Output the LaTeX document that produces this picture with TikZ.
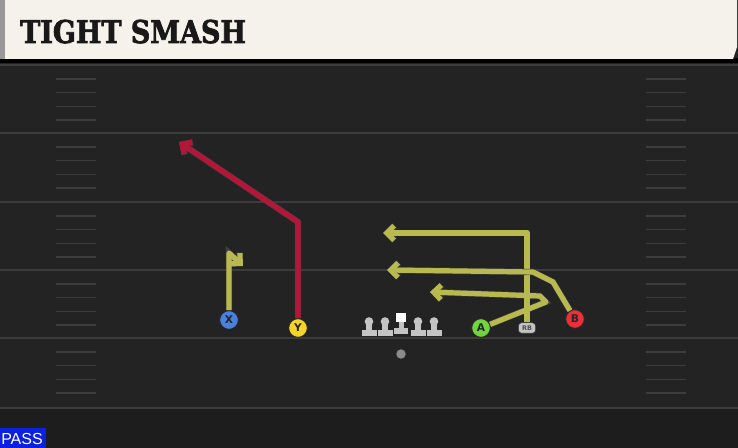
\documentclass[tikz,border=0pt]{standalone}
\usepackage{fontspec}
\setmainfont{DejaVu Sans}
\newfontfamily\titlefont{DejaVu Serif}[BoldFeatures={FakeBold=2.5}]
\newfontfamily\passfont{Liberation Sans}
\usetikzlibrary{arrows.meta}

\definecolor{fieldgray}{RGB}{35,35,35}
\definecolor{fieldlow}{RGB}{29,29,29}
\definecolor{fieldline}{RGB}{60,60,60}
\definecolor{titlecream}{RGB}{245,242,236}
\definecolor{routeyellow}{RGB}{184,185,78}
\definecolor{routered}{RGB}{180,22,58}
\definecolor{xblue}{RGB}{74,128,224}
\definecolor{yyellow}{RGB}{245,212,40}
\definecolor{agreen}{RGB}{112,212,62}
\definecolor{bred}{RGB}{232,48,58}
\definecolor{passblue}{RGB}{12,32,226}
\definecolor{linegray}{RGB}{196,196,196}

\tikzset{
  player/.style={circle, draw=black!85, line width=0.7pt, minimum size=14pt, inner sep=0pt,
    font=\bfseries\fontsize{8}{8}\selectfont, text=black!85},
  route/.style={line width=3.9pt, line cap=butt, line join=round,
    preaction={draw=black!75, line width=4.7pt},
    -{Straight Barb[length=5.5pt,width=11pt]}},
  yardline/.style={draw=fieldline, line width=1.6pt},
  hashmark/.style={draw=fieldline, line width=1.3pt},
}

\begin{document}
\begin{tikzpicture}[x=0.75pt,y=0.75pt,yscale=-1,xscale=1]
\useasboundingbox (0,0) rectangle (738,448);
%Shape: Field
\fill[fieldgray] (0,0) rectangle (738,448);
\fill[fieldlow] (0,408) rectangle (738,448);
%Shape: Title bar
\fill[black] (0,58) rectangle (738,63);
\fill[titlecream] (5,0) -- (737,0) -- (737,47) -- (733,59) -- (5,59) -- cycle;
\fill[black!40] (0,0) rectangle (5,59);
% Text Node
\node (title) [anchor=base west, inner sep=0pt, text=black!90] at (20,43)
  {\scalebox{0.86}[1]{\titlefont\bfseries\fontsize{23.5}{23.5}\selectfont TIGHT SMASH}};

%Straight Lines: yard lines and hash marks
\foreach \yl in {65,133,202,270,338,408}
  \draw[yardline] (0,\yl) -- (738,\yl);
\foreach \yl in {65,133,202,270,338}
  \foreach \k in {1,...,4} {
    \draw[hashmark] (56,{\yl+\k*13.8}) -- (96,{\yl+\k*13.8});
    \draw[hashmark] (646,{\yl+\k*13.8}) -- (686,{\yl+\k*13.8});
  }

%Shape: Offensive line
\foreach \lx in {369,385,418,434} {
  \fill[linegray] (\lx-7.5,330) rectangle (\lx+7.5,336);
  \fill[linegray] (\lx-3,322) rectangle (\lx+3,330);
  \fill[linegray] (\lx,321.5) circle (4.3);
}
\fill[linegray] (394,328) rectangle (408,334);
\fill[linegray] (398.5,321) rectangle (403.5,328);
\fill[white] (396,313) rectangle (406,322);
%Shape: QB
\node (QB) [circle, fill=black!45, draw=black!80, line width=0.4pt, minimum size=7.5pt, inner sep=0pt] at (401,354) {};

% Players
\node (X) [player, fill=xblue] at (229,320) {X};
\node (Y) [player, fill=yyellow] at (298,328) {Y};
\node (A) [player, fill=agreen] at (481,328) {A};
\node (B) [player, fill=bred] at (575,319) {B};
\node (RB) [rounded corners=2.5pt, fill=linegray, draw=black!80, line width=0.5pt,
  minimum width=13pt, minimum height=8pt, inner sep=0pt,
  font=\bfseries\fontsize{4.8}{4.8}\selectfont, text=black!70] at (527,328) {RB};

% Route corners
\coordinate (xup) at (229,253);
\coordinate (xend) at (243,266);
\coordinate (yup) at (298,222);
\coordinate (yend) at (179,142);
\coordinate (aout) at (546,302);
\coordinate (aturn) at (540,296);
\coordinate (aend) at (430,292);
\coordinate (rbup) at (527,233);
\coordinate (rbend) at (383,233);
\coordinate (bup) at (553,282);
\coordinate (bturn) at (533,272);
\coordinate (bend) at (387,270);

%Straight Lines: routes
\draw[route, routered] (Y) -- (yup) -- (yend);
\draw[route, routeyellow] (X) -- (xup) -- (xend);
\draw[route, routeyellow] (A) -- (aout) -- (aturn) -- (aend);
\draw[route, routeyellow] (RB) -- (rbup) -- (rbend);
\draw[route, routeyellow] (B) -- (bup) -- (bturn) -- (bend);

%Shape: Pass tag
\fill[passblue] (0,428) rectangle (46,448);
% Text Node
\node (pass) [text=white, inner sep=0pt, font=\passfont\fontsize{12}{12}\selectfont] at (22,438.5) {PASS};
\end{tikzpicture}
\end{document}
